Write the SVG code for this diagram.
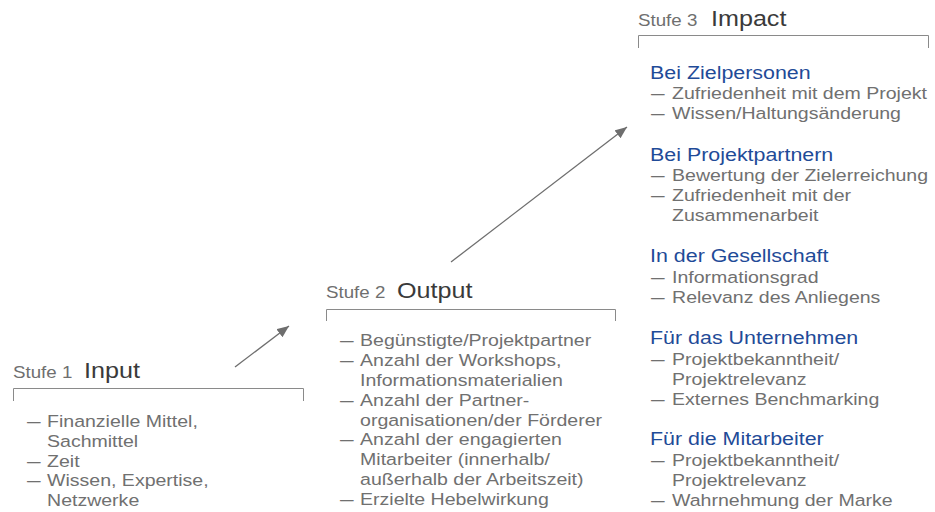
<svg xmlns="http://www.w3.org/2000/svg" width="935" height="512" viewBox="0 0 935 512">
  <style>
    text { font-family: "Liberation Sans", Arial, sans-serif; }
    .step { font-size: 16px; fill: #6f6f6f; }
    .title { font-size: 21.5px; fill: #3a3a3a; }
    .item { font-size: 16.7px; fill: #707070; }
    .dash { font-size: 16.7px; fill: #707070; }
    .head { font-size: 18.3px; fill: #1f4b98; }
    .bracket { fill: none; stroke: #8a8a8a; stroke-width: 1; }
    .arrow { fill: none; stroke: #6e6e6e; stroke-width: 1.3; marker-end: url(#head); }
  </style>
  <defs>
    <marker id="head" markerUnits="userSpaceOnUse" markerWidth="13" markerHeight="11" refX="12" refY="5" orient="auto">
      <path d="M0,0 L12,5 L0,10 Z" fill="#6e6e6e"/>
    </marker>
  </defs>

  <rect width="935" height="512" fill="#ffffff"/>

  <!-- Stage 1: Input -->
  <g id="stage-input">
    <path class="bracket" d="M13.5,401 V388.5 H303.5 V401"/>
    <g transform="matrix(1.17 0 0 1 13 0)">
      <text class="step" x="0" y="378">Stufe 1</text>
      <text class="title" x="60.7" y="378">Input</text>
      <text class="dash" x="12" y="427" textLength="11.6" lengthAdjust="spacingAndGlyphs">—</text>
      <text class="item" x="29.1" y="427">Finanzielle Mittel,</text>
      <text class="item" x="29.1" y="446.8">Sachmittel</text>
      <text class="dash" x="12" y="466.6" textLength="11.6" lengthAdjust="spacingAndGlyphs">—</text>
      <text class="item" x="29.1" y="466.6">Zeit</text>
      <text class="dash" x="12" y="486.4" textLength="11.6" lengthAdjust="spacingAndGlyphs">—</text>
      <text class="item" x="29.1" y="486.4">Wissen, Expertise,</text>
      <text class="item" x="29.1" y="506.2">Netzwerke</text>
    </g>
  </g>

  <!-- Stage 2: Output -->
  <g id="stage-output">
    <path class="bracket" d="M326.5,321 V309.5 H615.5 V321"/>
    <g transform="matrix(1.17 0 0 1 326 0)">
      <text class="step" x="0" y="298.5">Stufe 2</text>
      <text class="title" x="60.7" y="298.5">Output</text>
      <text class="dash" x="12" y="346" textLength="11.6" lengthAdjust="spacingAndGlyphs">—</text>
      <text class="item" x="29.1" y="346">Begünstigte/Projektpartner</text>
      <text class="dash" x="12" y="365.9" textLength="11.6" lengthAdjust="spacingAndGlyphs">—</text>
      <text class="item" x="29.1" y="365.9">Anzahl der Workshops,</text>
      <text class="item" x="29.1" y="385.8">Informationsmaterialien</text>
      <text class="dash" x="12" y="405.7" textLength="11.6" lengthAdjust="spacingAndGlyphs">—</text>
      <text class="item" x="29.1" y="405.7">Anzahl der Partner-</text>
      <text class="item" x="29.1" y="425.6">organisationen/der Förderer</text>
      <text class="dash" x="12" y="445.5" textLength="11.6" lengthAdjust="spacingAndGlyphs">—</text>
      <text class="item" x="29.1" y="445.5">Anzahl der engagierten</text>
      <text class="item" x="29.1" y="465.4">Mitarbeiter (innerhalb/</text>
      <text class="item" x="29.1" y="485.3">außerhalb der Arbeitszeit)</text>
      <text class="dash" x="12" y="505.2" textLength="11.6" lengthAdjust="spacingAndGlyphs">—</text>
      <text class="item" x="29.1" y="505.2">Erzielte Hebelwirkung</text>
    </g>
  </g>

  <!-- Stage 3: Impact -->
  <g id="stage-impact">
    <path class="bracket" d="M638.5,48 V35.5 H928.5 V48"/>
    <g transform="matrix(1.17 0 0 1 638 0)">
      <text class="step" x="0" y="26">Stufe 3</text>
      <text class="title" x="62.4" y="26">Impact</text>

      <text class="head" x="10.3" y="79.3">Bei Zielpersonen</text>
      <text class="dash" x="11.1" y="99.5" textLength="11.6" lengthAdjust="spacingAndGlyphs">—</text>
      <text class="item" x="29.1" y="99.5">Zufriedenheit mit dem Projekt</text>
      <text class="dash" x="11.1" y="119.5" textLength="11.6" lengthAdjust="spacingAndGlyphs">—</text>
      <text class="item" x="29.1" y="119.5">Wissen/Haltungsänderung</text>

      <text class="head" x="10.3" y="161.3">Bei Projektpartnern</text>
      <text class="dash" x="11.1" y="181.5" textLength="11.6" lengthAdjust="spacingAndGlyphs">—</text>
      <text class="item" x="29.1" y="181.5">Bewertung der Zielerreichung</text>
      <text class="dash" x="11.1" y="201.5" textLength="11.6" lengthAdjust="spacingAndGlyphs">—</text>
      <text class="item" x="29.1" y="201.5">Zufriedenheit mit der</text>
      <text class="item" x="29.1" y="221.3">Zusammenarbeit</text>

      <text class="head" x="10.3" y="262.3">In der Gesellschaft</text>
      <text class="dash" x="11.1" y="282.8" textLength="11.6" lengthAdjust="spacingAndGlyphs">—</text>
      <text class="item" x="29.1" y="282.8">Informationsgrad</text>
      <text class="dash" x="11.1" y="302.8" textLength="11.6" lengthAdjust="spacingAndGlyphs">—</text>
      <text class="item" x="29.1" y="302.8">Relevanz des Anliegens</text>

      <text class="head" x="10.3" y="344.3">Für das Unternehmen</text>
      <text class="dash" x="11.1" y="364.8" textLength="11.6" lengthAdjust="spacingAndGlyphs">—</text>
      <text class="item" x="29.1" y="364.8">Projektbekanntheit/</text>
      <text class="item" x="29.1" y="384.8">Projektrelevanz</text>
      <text class="dash" x="11.1" y="404.6" textLength="11.6" lengthAdjust="spacingAndGlyphs">—</text>
      <text class="item" x="29.1" y="404.6">Externes Benchmarking</text>

      <text class="head" x="10.3" y="445.3">Für die Mitarbeiter</text>
      <text class="dash" x="11.1" y="465.8" textLength="11.6" lengthAdjust="spacingAndGlyphs">—</text>
      <text class="item" x="29.1" y="465.8">Projektbekanntheit/</text>
      <text class="item" x="29.1" y="485.8">Projektrelevanz</text>
      <text class="dash" x="11.1" y="505.6" textLength="11.6" lengthAdjust="spacingAndGlyphs">—</text>
      <text class="item" x="29.1" y="505.6">Wahrnehmung der Marke</text>
    </g>
  </g>

  <!-- Connectors between stages -->
  <g id="connectors">
    <line class="arrow" x1="235" y1="367" x2="289" y2="326"/>
    <line class="arrow" x1="451" y1="262" x2="627" y2="127"/>
  </g>
</svg>
